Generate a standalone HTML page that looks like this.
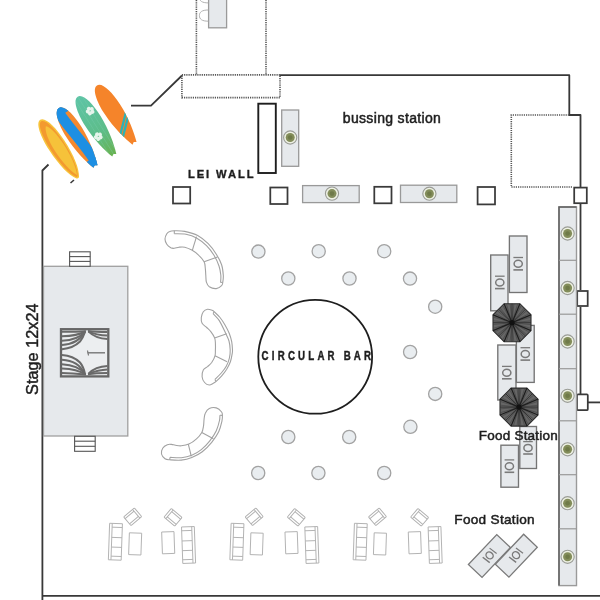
<!DOCTYPE html>
<html><head><meta charset="utf-8">
<style>
html,body{margin:0;padding:0;background:#fff;}
body{width:600px;height:600px;overflow:hidden;position:relative;font-family:"Liberation Sans",sans-serif;}
svg{position:absolute;left:0;top:0;will-change:transform;}
.t{font-family:"Liberation Sans",sans-serif;fill:#1e1e1e;}
</style></head><body>
<svg width="600" height="600" viewBox="0 0 600 600">
<defs>
  <g id="plant">
    <circle r="6.6" fill="#eef1e4" stroke="#9a9c96" stroke-width="1.1"/>
    <circle r="4.5" fill="#838d5a"/>
    <circle r="2.3" fill="#6f7a48"/>
  </g>
  <g id="ioi" stroke="#7a7a7a" fill="none">
    <line x1="-4.8" y1="-6.3" x2="4.8" y2="-6.3" stroke-width="1.3"/>
    <ellipse rx="4.1" ry="3.5" stroke-width="1.5"/>
    <line x1="-4.8" y1="6.1" x2="4.8" y2="6.1" stroke-width="1.6"/>
  </g>
  <g id="stool">
    <circle r="6.6" fill="#e9edf0" stroke="#a3a3a3" stroke-width="1.3"/>
  </g>
  <g id="lounge" fill="none" stroke="#b0b0b0" stroke-width="0.95">
    <g id="sofaL" transform="rotate(2 115.5 541.7)">
      <rect x="109" y="523.5" width="12.8" height="36.5"/>
      <line x1="111.6" y1="523.5" x2="111.6" y2="560"/>
      <line x1="111.6" y1="527.3" x2="121.8" y2="527.3"/>
      <line x1="111.6" y1="556.3" x2="121.8" y2="556.3"/>
      <line x1="111.6" y1="537.5" x2="121.8" y2="537.5"/>
      <line x1="111.6" y1="547.2" x2="121.8" y2="547.2"/>
    </g>
    <g id="chairL" transform="translate(132.7 516.8) rotate(50)">
      <rect x="-5.65" y="-7" width="11.3" height="14" rx="0.8"/>
      <line x1="-5.65" y1="-4.6" x2="5.65" y2="-4.6"/>
      <line x1="-3.4" y1="-4.6" x2="-3.4" y2="7"/>
      <line x1="3.4" y1="-4.6" x2="3.4" y2="7"/>
    </g>
    <g id="tableL" transform="rotate(2 135 544)">
      <rect x="129" y="533" width="12.3" height="21.8"/>
    </g>
  </g>
  <g id="pairR" fill="none" stroke="#b0b0b0" stroke-width="0.95">
    <use href="#chairL" transform="translate(305.7 0.5) scale(-1 1)"/>
    <use href="#tableL" transform="translate(303.35 -1.2) scale(-1 1)"/>
    <use href="#sofaL" transform="translate(303.95 3.25) scale(-1 1)"/>
  </g>
</defs>

<!-- ===== walls ===== -->
<g fill="none" stroke="#383838" stroke-width="1.8" stroke-linejoin="round">
  <polyline points="131,105.6 151,105.6 182,75.5"/>
  <polyline points="280,75.2 569.3,75.2 569.3,115 580.5,115 580.5,187"/>
  <line x1="580.5" y1="204" x2="580.5" y2="290"/>
  <line x1="580.5" y1="307" x2="580.5" y2="394"/>
  <line x1="588" y1="402.4" x2="600" y2="402.4"/>
  <polyline points="48.5,164.5 42.4,170.5 42.4,600"/>
  <line x1="42.4" y1="595.9" x2="600" y2="595.9"/>
  <line x1="70.5" y1="183" x2="74" y2="180" stroke-width="1.6"/>
</g>
<!-- dotted lines -->
<g fill="none" stroke="#555" stroke-width="1.6" stroke-dasharray="1.2 1.0">
  <line x1="196.4" y1="0" x2="196.4" y2="75"/>
  <line x1="266" y1="0" x2="266" y2="75"/>
  <rect x="181.9" y="74.9" width="98.1" height="22.7"/>
  <polyline points="569,115 511.3,115 511.3,187 573,187"/>
</g>

<!-- top table + chairs -->
<g>
  <rect x="208.6" y="-3" width="18" height="30.8" fill="#e6e9ec" stroke="#9a9a9a" stroke-width="1.3"/>
  <path d="M208.3,-8.3 C202,-8.3 199.4,-6.3 199.4,-2.7 C199.4,0.9 202,2.9 208.3,2.9" fill="none" stroke="#b0b0b0" stroke-width="1"/>
  <path d="M208.3,10 C202,10 199.4,12 199.4,15.6 C199.4,19.2 202,21.2 208.3,21.2" fill="none" stroke="#b0b0b0" stroke-width="1"/>
</g>

<!-- wall squares -->
<g fill="#fff" stroke="#3a3a3a" stroke-width="1.75">
  <rect x="574.2" y="187.6" width="12.6" height="15.6"/>
  <rect x="577.2" y="291" width="10.5" height="15"/>
  <rect x="577" y="394.4" width="10.8" height="15.8" rx="1"/>
</g>

<!-- long buffet -->
<g>
  <rect x="559" y="207" width="17.5" height="378.6" fill="#e6e9ec" stroke="#9a9a9a" stroke-width="1.4"/>
  <polyline points="559,585.6 559,207 576.5,207" fill="none" stroke="#606060" stroke-width="1.5"/>
  <g stroke="#999" stroke-width="1.2">
    <line x1="559" y1="260.3" x2="576.5" y2="260.3"/>
    <line x1="559" y1="314.2" x2="576.5" y2="314.2"/>
    <line x1="559" y1="368.7" x2="576.5" y2="368.7"/>
    <line x1="559" y1="420.8" x2="576.5" y2="420.8"/>
    <line x1="559" y1="474.7" x2="576.5" y2="474.7"/>
    <line x1="559" y1="528.8" x2="576.5" y2="528.8"/>
  </g>
  <use href="#plant" x="567.6" y="233.5"/>
  <use href="#plant" x="567.6" y="288"/>
  <use href="#plant" x="567.6" y="341.5"/>
  <use href="#plant" x="567.6" y="395.8"/>
  <use href="#plant" x="567.6" y="449.3"/>
  <use href="#plant" x="567.6" y="503.2"/>
  <use href="#plant" x="567.6" y="556.8"/>
</g>

<!-- lei wall -->
<rect x="258.3" y="103.7" width="17.5" height="69.3" fill="#fff" stroke="#1e1e1e" stroke-width="1.9"/>
<rect x="281.7" y="110" width="17" height="56.3" fill="#e6e9ec" stroke="#999" stroke-width="1.3"/>
<use href="#plant" x="290.2" y="137.5"/>

<!-- squares row -->
<g fill="#fff" stroke="#3a3a3a" stroke-width="1.75">
  <rect x="173" y="187" width="17.2" height="16.5"/>
  <rect x="270.3" y="187.5" width="17.2" height="16.5"/>
  <rect x="374.3" y="186.8" width="17.2" height="16.5"/>
  <rect x="477.6" y="187" width="17.4" height="17.4"/>
</g>
<g fill="#e6e9ec" stroke="#999" stroke-width="1.3">
  <rect x="302.6" y="185.6" width="56.6" height="17"/>
  <rect x="400.5" y="185.2" width="56.3" height="17.3"/>
</g>
<use href="#plant" x="332" y="193.6"/>
<use href="#plant" x="429.4" y="193.7"/>

<!-- texts -->
<text class="t" x="188" y="177.6" font-size="11.2" font-weight="bold" letter-spacing="1.9" stroke="#1e1e1e" stroke-width="0.35">LEI WALL</text>
<text class="t" x="342.8" y="122.6" font-size="14" letter-spacing="0.33" stroke="#1e1e1e" stroke-width="0.5">bussing station</text>

<!-- surfboards -->
<defs>
  <path id="sb" d="M0,-34.5 C5.8,-34.5 9.1,-22 9.1,-6 C9.1,10 5.4,26 2.4,34.5 L0,33 L-2.4,34.5 C-5.4,26 -9.1,10 -9.1,-6 C-9.1,-22 -5.8,-34.5 0,-34.5Z"/>
  <clipPath id="sbc"><use href="#sb"/></clipPath>
  <linearGradient id="gg" x1="0" y1="0" x2="0" y2="1"><stop offset="0" stop-color="#5ec4a6"/><stop offset="0.6" stop-color="#5dbd8a"/><stop offset="1" stop-color="#6ab24f"/></linearGradient>
</defs>
<g>
  <g transform="translate(59 148.7) rotate(-33)">
    <path d="M0,-34.5 C5.8,-34.5 9,-20 9,-4 C9,14 6,28 1.5,34.5 C0.5,35.5 -0.5,35.5 -1.5,34.5 C-6,28 -9,14 -9,-4 C-9,-20 -5.8,-34.5 0,-34.5Z" fill="#f7c43c"/>
    <path d="M0,-32.6 C4.8,-32.6 7.6,-19 7.6,-4 C7.6,13 5,26.5 1,32.8 C0,33.6 -0.5,33.6 -1.2,32.8 C-5,26.5 -7.6,13 -7.6,-4 C-7.6,-19 -4.8,-32.6 0,-32.6Z" fill="#f39a2f"/>
    <path d="M1.2,-26 C4.6,-23 6.3,-12 6.3,-2 C6.3,12 4.6,24 0.8,31.8 C-2.6,25 -4.6,13 -4.6,0 C-4.6,-12 -2.4,-23 1.2,-26Z" fill="#f6c23a"/>
  </g>
  <g transform="translate(77.2 137.2) rotate(-32)">
    <use href="#sb" fill="#f4882e"/>
    <g clip-path="url(#sbc)">
      <path d="M-3,-42 C-3.5,-14 3.5,6 3,42" fill="none" stroke="#1d8fe3" stroke-width="10.5"/>
      <rect x="-10" y="-40" width="20" height="13" fill="#1d8fe3"/>
      <rect x="-10" y="26" width="20" height="14" fill="#1d8fe3"/>
    </g>
  </g>
  <g transform="translate(96 125.9) rotate(-32)">
    <use href="#sb" fill="url(#gg)"/>
    <g clip-path="url(#sbc)" stroke="#7fd0b0" stroke-width="0.5" opacity="0.6">
      <line x1="-4" y1="-36" x2="-4" y2="36"/><line x1="0" y1="-36" x2="0" y2="36"/><line x1="4" y1="-36" x2="4" y2="36"/>
    </g>
    <g fill="#eef7f1" opacity="0.95"><circle cx="3.00" cy="-18.30" r="2.0"/><circle cx="5.38" cy="-16.57" r="2.0"/><circle cx="4.47" cy="-13.78" r="2.0"/><circle cx="1.53" cy="-13.78" r="2.0"/><circle cx="0.62" cy="-16.57" r="2.0"/><circle cx="-3.60" cy="7.70" r="2.0"/><circle cx="-1.22" cy="9.43" r="2.0"/><circle cx="-2.13" cy="12.22" r="2.0"/><circle cx="-5.07" cy="12.22" r="2.0"/><circle cx="-5.98" cy="9.43" r="2.0"/></g>
  </g>
  <g transform="translate(115.75 114.4) rotate(-33)">
    <use href="#sb" fill="#f5842a"/>
    <g clip-path="url(#sbc)" fill="none">
      <line x1="11" y1="2.5" x2="-11" y2="23" stroke="#2ab3b8" stroke-width="2.2"/>
      <line x1="11" y1="6.8" x2="-11" y2="27.3" stroke="#2ab3b8" stroke-width="2.2"/>
    </g>
  </g>
</g>

<!-- stage -->
<rect x="43.5" y="266.3" width="84.3" height="169.7" fill="#e6e9ec" stroke="#a0a0a0" stroke-width="1.3"/>
<g fill="#fff" stroke="#555" stroke-width="1.1">
  <rect x="69.6" y="251.8" width="20.6" height="14.5"/>
  <line x1="69.6" y1="256.6" x2="90.2" y2="256.6"/>
  <line x1="69.6" y1="261.4" x2="90.2" y2="261.4"/>
  <rect x="74.6" y="436.3" width="20.6" height="15"/>
  <line x1="74.6" y1="441.2" x2="95.2" y2="441.2"/>
  <line x1="74.6" y1="446.3" x2="95.2" y2="446.3"/>
</g>
<g>
  <rect x="61" y="329.2" width="47.3" height="47.2" fill="#eceef0" stroke="#666" stroke-width="2.3"/>
  <g fill="none" stroke="#6a6a6a" stroke-width="2">
    <path d="M62,331.8 C72,331.8 80,331.6 86,331.2"/>
    <path d="M62,336.3 C72,336 80,334.5 85.5,331.5"/>
    <path d="M62,340.8 C72,340.3 80,337.5 85,332"/>
    <path d="M62,345 C72,344.3 80,340.5 84.3,332.5"/>
    <path d="M62,349.2 C70,348.5 76,345.5 80,341.5 C82.5,338.5 84,335 85,332"/>
    <path d="M62,355 C70,355.5 76,358.5 80,362.5 C82.5,365.5 84,369 85,374"/>
    <path d="M62,359.7 C72,360.3 80,364 84.3,373.5"/>
    <path d="M62,364.3 C72,364.8 80,367.5 85,374"/>
    <path d="M62,368.6 C72,369 80,371 85.5,374.5"/>
    <path d="M62,373 C72,373.2 80,374 86,374.6"/>
    <path d="M107.5,332 C98,332 92,331.5 88,331"/>
    <path d="M107.5,335.5 C99,335.2 93,333.5 88.3,331.3"/>
    <path d="M107.5,339 C99,338.6 93,336 88.6,331.6"/>
    <path d="M107.5,366 C99,366.4 93,369 88.6,373.6"/>
    <path d="M107.5,369.5 C99,369.8 93,372 88.3,374"/>
    <path d="M107.5,373 C98,373 92,373.6 88,374.2"/>
  </g>
  <line x1="87.5" y1="352.8" x2="105" y2="352.8" stroke="#777" stroke-width="1.4"/>
  <path d="M87.5,350.5 L88.5,355.5" stroke="#777" stroke-width="1.2"/>
</g>
<text class="t" font-size="16.3" stroke="#1e1e1e" stroke-width="0.45" transform="translate(37.6 394.9) rotate(-90)">Stage 12x24</text>

<!-- curved sofas -->
<g fill="none" stroke="#a2a2a2" stroke-width="1.1" stroke-linejoin="round">
  <path d="M169.7,231.4 C170.9,230.9 171.8,230.8 174.3,230.8 C176.8,230.8 180.9,230.6 184.8,231.4 C188.7,232.2 193.8,233.4 197.7,235.5 C201.6,237.6 205.1,240.6 208.2,243.7 C211.3,246.8 214.1,250.7 216.3,254.2 C218.5,257.7 220.4,261.2 221.6,264.7 C222.8,268.2 223.1,272.3 223.3,275.2 C223.5,278.1 223.1,280.4 222.8,282.2 C222.5,283.9 222.7,284.6 221.6,285.7 C220.5,286.8 218.4,288.4 216.3,288.6 C214.2,288.8 211.0,287.9 209.3,286.8 C207.7,285.7 207.0,284.1 206.4,282.2 C205.8,280.3 206.0,277.5 205.8,275.2 C205.6,272.9 205.6,270.4 205.3,268.2 C205.0,266.0 205.2,263.9 204.1,261.8 C203.0,259.7 200.9,257.2 198.8,255.3 C196.8,253.4 194.1,251.4 191.8,250.1 C189.5,248.8 186.9,247.7 184.8,247.2 C182.7,246.7 180.8,247.0 179.0,247.2 C177.2,247.4 175.7,248.2 174.3,248.3 C172.9,248.4 172.1,248.5 170.8,247.8 C169.6,247.1 167.8,245.8 166.8,244.3 C165.8,242.8 165.0,240.8 165.0,239.0 C165.0,237.2 166.0,235.1 166.8,233.8 C167.6,232.5 168.4,231.9 169.7,231.4Z"/>
  <path d="M174.3,233.8 C176.2,233.9 182.3,233.6 186.0,234.3 C189.7,235.0 193.1,236.0 196.5,237.9 C199.9,239.8 203.6,242.7 206.5,245.6 C209.4,248.5 211.9,251.8 214.0,255.2 C216.1,258.6 217.9,262.7 219.0,266.0 C220.1,269.3 220.5,272.2 220.8,275.0 C221.1,277.8 220.6,281.2 220.6,282.5"/>
  <line x1="174.3" y1="230.8" x2="174.3" y2="233.8"/>
  <line x1="222.8" y1="282.2" x2="220.6" y2="282.5"/>
  <line x1="169.7" y1="459.8" x2="170" y2="457.4"/>
  <line x1="215.8" y1="381.7" x2="215" y2="379.3"/>
  <line x1="196.5" y1="236.7" x2="192.4" y2="250.1"/>
  <line x1="217.5" y1="257.1" x2="204.1" y2="261.8"/>
  <path d="M169.7,459.8 C172.4,460.0 177.6,460.5 181.3,460.1 C185.0,459.7 188.3,458.9 191.8,457.5 C195.3,456.1 199.0,454.2 202.3,451.7 C205.6,449.2 209.0,445.6 211.7,442.3 C214.4,439.0 217.0,435.3 218.7,431.8 C220.4,428.3 221.3,424.0 221.9,421.3 C222.5,418.6 222.5,417.1 222.4,415.5 C222.3,413.9 222.6,413.3 221.6,412.0 C220.6,410.7 218.4,408.5 216.3,407.9 C214.2,407.3 211.1,407.6 209.3,408.5 C207.5,409.4 206.2,411.4 205.3,413.2 C204.4,414.9 204.4,416.9 204.1,419.0 C203.8,421.1 203.9,423.8 203.5,426.0 C203.1,428.2 203.0,430.3 201.8,432.4 C200.6,434.5 198.7,436.9 196.5,438.8 C194.3,440.8 191.4,442.9 188.9,444.1 C186.4,445.3 183.5,445.6 181.3,445.8 C179.1,446.0 177.1,445.5 175.5,445.3 C173.9,445.1 172.9,444.5 171.5,444.4 C170.1,444.3 168.8,444.1 167.3,444.7 C165.8,445.3 163.7,446.6 162.7,448.2 C161.7,449.8 161.1,452.2 161.5,454.0 C161.9,455.8 163.6,457.7 165.0,458.7 C166.4,459.7 167.0,459.6 169.7,459.8Z"/>
  <path d="M170.0,457.4 C171.9,457.4 177.9,458.1 181.5,457.7 C185.1,457.3 188.5,456.5 191.8,455.2 C195.1,453.9 198.3,452.0 201.3,449.6 C204.3,447.2 207.3,444.0 209.8,440.8 C212.3,437.6 214.7,434.1 216.3,430.7 C217.9,427.3 218.9,423.1 219.5,420.5 C220.1,417.9 219.8,416.2 219.9,415.3"/>
  <line x1="222.4" y1="415.4" x2="219.9" y2="415.3"/>
  <line x1="201.8" y1="432.4" x2="213.4" y2="438.8"/>
  <line x1="188.3" y1="444.1" x2="191.3" y2="456.3"/>
  <path d="M212.5,310.4 C213.6,310.8 212.9,310.5 214.2,311.7 C215.4,312.9 218.2,315.3 220.0,317.5 C221.8,319.7 223.5,322.4 225.0,325.0 C226.5,327.6 228.1,330.5 229.2,333.3 C230.3,336.1 231.1,338.9 231.7,341.7 C232.2,344.5 232.4,347.9 232.5,350.0 C232.6,352.1 232.4,352.2 232.1,354.2 C231.8,356.1 231.3,359.2 230.4,361.7 C229.5,364.2 228.1,366.8 226.7,369.2 C225.2,371.6 223.5,373.7 221.7,375.8 C219.9,377.9 217.2,380.4 215.8,381.7 C214.4,382.9 214.4,382.8 213.3,383.3 C212.2,383.9 210.6,385.1 209.2,385.0 C207.8,384.9 205.8,383.9 204.6,382.5 C203.4,381.1 202.3,378.8 202.1,376.7 C201.9,374.6 202.4,371.7 203.3,370.0 C204.2,368.3 206.1,367.9 207.5,366.7 C208.9,365.4 210.4,364.3 211.7,362.5 C212.9,360.7 214.4,357.9 215.0,355.8 C215.6,353.7 215.3,352.1 215.4,350.0 C215.5,347.9 215.5,345.3 215.4,343.3 C215.3,341.3 215.4,339.8 214.6,337.9 C213.8,336.0 212.1,333.4 210.8,331.7 C209.5,330.0 208.1,328.9 206.7,327.5 C205.2,326.1 203.0,325.0 202.1,323.3 C201.2,321.6 201.1,319.4 201.3,317.5 C201.5,315.6 202.3,313.1 203.3,311.7 C204.3,310.3 206.0,309.4 207.5,309.2 C209.0,309.0 211.4,310.0 212.5,310.4Z"/>
  <path d="M213.1,313.6 C214.1,314.8 217.3,317.5 219.3,320.6 C221.3,323.8 223.7,329.1 225.3,332.5 C226.9,335.9 228.2,338.1 229.0,341.0 C229.8,343.9 230.1,347.2 230.2,350.0 C230.3,352.8 230.0,355.3 229.4,358.0 C228.8,360.7 227.8,363.5 226.4,366.0 C225.1,368.5 223.2,370.8 221.3,373.0 C219.4,375.2 216.1,378.2 215.0,379.3"/>
  <line x1="214.2" y1="311.7" x2="213.1" y2="313.6"/>
  <line x1="214.6" y1="337.9" x2="226.7" y2="333.75"/>
  <line x1="215" y1="355.8" x2="227.1" y2="361.7"/>
</g>

<!-- circular bar -->
<circle cx="315.2" cy="356.8" r="56.9" fill="#fff" stroke="#1e1e1e" stroke-width="1.8"/>
<text class="t" transform="translate(261.6 360) scale(0.77 1)" font-size="12.6" font-weight="bold" letter-spacing="4.15" stroke="#1e1e1e" stroke-width="0.45">CIRCULAR BAR</text>

<!-- stools -->
<g>
  <use href="#stool" x="258.4" y="251.6"/>
  <use href="#stool" x="318.7" y="251.2"/>
  <use href="#stool" x="384.2" y="251.2"/>
  <use href="#stool" x="288.3" y="278.5"/>
  <use href="#stool" x="349.5" y="278.5"/>
  <use href="#stool" x="410" y="278.6"/>
  <use href="#stool" x="435.2" y="306.7"/>
  <use href="#stool" x="410.1" y="352"/>
  <use href="#stool" x="435.2" y="393.9"/>
  <use href="#stool" x="410.4" y="426.8"/>
  <use href="#stool" x="288.3" y="437"/>
  <use href="#stool" x="349.2" y="437"/>
  <use href="#stool" x="258.2" y="473"/>
  <use href="#stool" x="318.4" y="473"/>
  <use href="#stool" x="384.2" y="473"/>
</g>

<!-- food stations right -->
<g fill="#e6e9ec" stroke="#747474" stroke-width="1.35">
  <rect x="490.7" y="255" width="17.3" height="55.8"/>
  <rect x="509.4" y="236" width="17.6" height="56.5"/>
  <rect x="497.8" y="345" width="18.2" height="55"/>
  <rect x="516.4" y="325.4" width="17.8" height="57"/>
  <rect x="500.9" y="445.2" width="17.6" height="42"/>
  <rect x="519.8" y="426.5" width="16.7" height="42"/>
</g>
<use href="#ioi" x="499.8" y="282.5"/>
<use href="#ioi" x="518.2" y="263.8"/>
<use href="#ioi" x="506.8" y="372.7"/>
<use href="#ioi" x="525.3" y="354"/>
<use href="#ioi" x="509.4" y="466.2"/>
<use href="#ioi" x="528" y="447.9"/>

<!-- umbrellas -->
<g id="umb">
  <clipPath id="octc"><polygon points="504.1,303.7 519.9,303.7 531,314.8 531,330.6 519.9,341.7 504.1,341.7 493,330.6 493,314.8"/></clipPath>
  <polygon points="504.1,303.7 519.9,303.7 531,314.8 531,330.6 519.9,341.7 504.1,341.7 493,330.6 493,314.8" fill="#666" stroke="#2e2e2e" stroke-width="1.1"/>
  <g clip-path="url(#octc)" stroke="#3c3c3c" stroke-width="0.55"><line x1="512" y1="322.7" x2="530.9" y2="324.6"/><line x1="512" y1="322.7" x2="530.2" y2="328.2"/><line x1="512" y1="322.7" x2="528.7" y2="331.7"/><line x1="512" y1="322.7" x2="526.7" y2="334.8"/><line x1="512" y1="322.7" x2="524.0" y2="337.4"/><line x1="512" y1="322.7" x2="520.9" y2="339.5"/><line x1="512" y1="322.7" x2="517.5" y2="340.9"/><line x1="512" y1="322.7" x2="513.8" y2="341.6"/><line x1="512" y1="322.7" x2="510.1" y2="341.6"/><line x1="512" y1="322.7" x2="506.5" y2="340.9"/><line x1="512" y1="322.7" x2="503.0" y2="339.4"/><line x1="512" y1="322.7" x2="499.9" y2="337.4"/><line x1="512" y1="322.7" x2="497.3" y2="334.7"/><line x1="512" y1="322.7" x2="495.2" y2="331.6"/><line x1="512" y1="322.7" x2="493.8" y2="328.2"/><line x1="512" y1="322.7" x2="493.1" y2="324.5"/><line x1="512" y1="322.7" x2="493.1" y2="320.8"/><line x1="512" y1="322.7" x2="493.8" y2="317.2"/><line x1="512" y1="322.7" x2="495.3" y2="313.7"/><line x1="512" y1="322.7" x2="497.3" y2="310.6"/><line x1="512" y1="322.7" x2="500.0" y2="308.0"/><line x1="512" y1="322.7" x2="503.1" y2="305.9"/><line x1="512" y1="322.7" x2="506.5" y2="304.5"/><line x1="512" y1="322.7" x2="510.2" y2="303.8"/><line x1="512" y1="322.7" x2="513.9" y2="303.8"/><line x1="512" y1="322.7" x2="517.5" y2="304.5"/><line x1="512" y1="322.7" x2="521.0" y2="306.0"/><line x1="512" y1="322.7" x2="524.1" y2="308.0"/><line x1="512" y1="322.7" x2="526.7" y2="310.7"/><line x1="512" y1="322.7" x2="528.8" y2="313.8"/><line x1="512" y1="322.7" x2="530.2" y2="317.2"/><line x1="512" y1="322.7" x2="530.9" y2="320.9"/></g>
  <g stroke="#2e2e2e" stroke-width="0.9"><line x1="512" y1="322.7" x2="512.0" y2="303.7"/><line x1="512" y1="322.7" x2="525.5" y2="309.2"/><line x1="512" y1="322.7" x2="531.0" y2="322.7"/><line x1="512" y1="322.7" x2="525.5" y2="336.1"/><line x1="512" y1="322.7" x2="512.0" y2="341.7"/><line x1="512" y1="322.7" x2="498.6" y2="336.1"/><line x1="512" y1="322.7" x2="493.0" y2="322.7"/><line x1="512" y1="322.7" x2="498.6" y2="309.2"/></g>
  <g stroke="#1e1e1e" stroke-width="1.25"><line x1="512" y1="322.7" x2="504.1" y2="303.7"/><line x1="512" y1="322.7" x2="519.9" y2="303.7"/><line x1="512" y1="322.7" x2="531" y2="314.8"/><line x1="512" y1="322.7" x2="531" y2="330.6"/><line x1="512" y1="322.7" x2="519.9" y2="341.7"/><line x1="512" y1="322.7" x2="504.1" y2="341.7"/><line x1="512" y1="322.7" x2="493" y2="330.6"/><line x1="512" y1="322.7" x2="493" y2="314.8"/></g>
  <circle cx="512" cy="322.7" r="2.6" fill="#111"/>
</g>
<use href="#umb" transform="translate(7 84.4)"/>
<text class="t" x="478.8" y="439.8" font-size="13.5" letter-spacing="0.22" stroke="#1e1e1e" stroke-width="0.5">Food Station</text>

<!-- bottom food station -->
<text class="t" x="454.3" y="523.7" font-size="13.6" letter-spacing="0.3" stroke="#1e1e1e" stroke-width="0.5">Food Station</text>
<g fill="#e6e9ec" stroke="#7a7a7a" stroke-width="1.3">
  <rect x="-20.6" y="-9.4" width="41.2" height="18.8" transform="translate(489.4 556) rotate(-46.5)"/>
  <rect x="-20.6" y="-9.4" width="41.2" height="18.8" transform="translate(516.3 555.7) rotate(-46.5)"/>
</g>
<use href="#ioi" transform="translate(489.6 555.4) rotate(37) scale(0.92)"/>
<use href="#ioi" transform="translate(516 555.2) rotate(37) scale(0.92)"/>

<!-- lounges -->
<use href="#lounge"/>
<use href="#pairR"/>
<use href="#lounge" transform="translate(121.5 0)"/>
<use href="#pairR" transform="translate(123.3 0)"/>
<use href="#lounge" transform="translate(244.8 0)"/>
<use href="#pairR" transform="translate(246.6 0)"/>

</svg>
</body></html>
